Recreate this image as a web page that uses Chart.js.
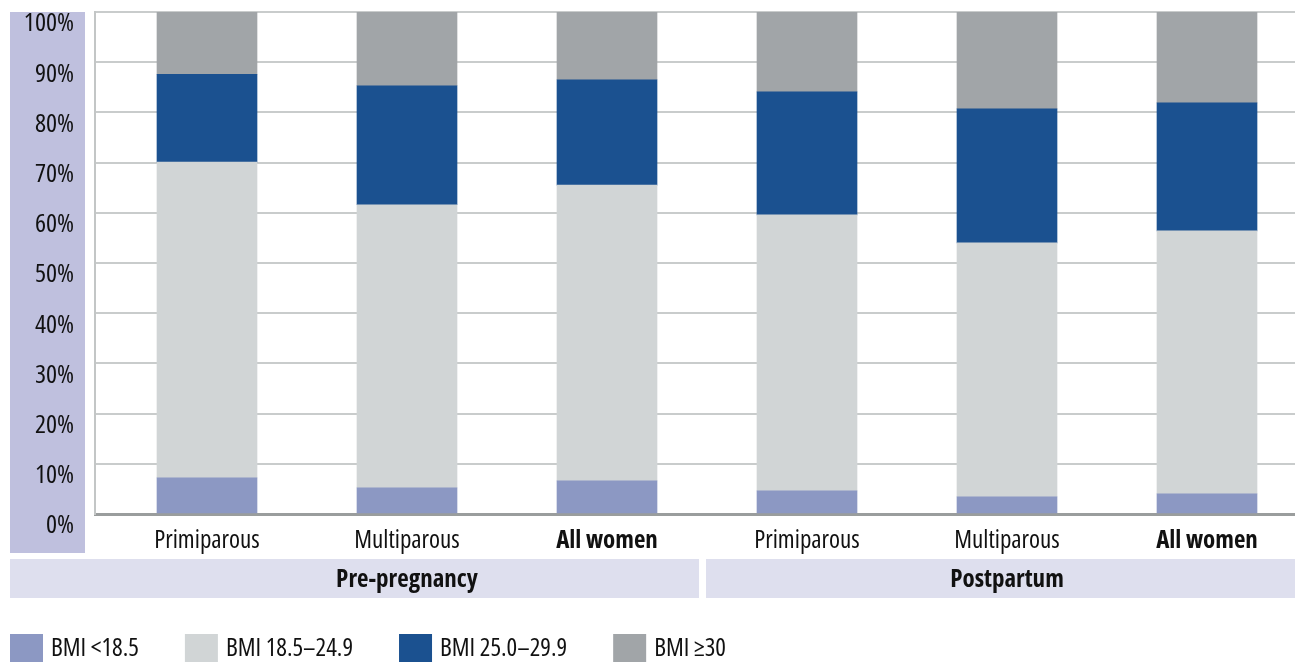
<!DOCTYPE html>
<html>
<head>
<meta charset="utf-8">
<script src="https://cdn.jsdelivr.net/npm/chart.js@4/dist/chart.umd.min.js"></script>
<style>
  html, body { margin: 0; padding: 0; background: #fff; overflow: hidden; }
  #wrap { width: 1295px; height: 662px; }
</style>
</head>
<body>
<div id="wrap"><canvas id="bmiChart" width="1295" height="662"></canvas></div>
<script>
// categories along the x axis, and the group each one belongs to
const categories = ['Primiparous', 'Multiparous', 'All women', 'Primiparous', 'Multiparous', 'All women'];
const boldCategories = ['All women'];
const groups = ['Pre-pregnancy', 'Postpartum'];
const groupOf = [0, 0, 0, 1, 1, 1];

// percentage of women in each BMI band
const seriesLabels = ['BMI <18.5', 'BMI 18.5–24.9', 'BMI 25.0–29.9', 'BMI ≥30'];
const underweight = [7.2, 5.2, 6.6, 4.6, 3.4, 4.0];
const normal = [62.9, 56.4, 58.9, 55.0, 50.6, 52.4];
const overweight = [17.5, 23.7, 21.0, 24.5, 26.7, 25.5];
const obese = [12.4, 14.7, 13.5, 15.9, 19.3, 18.1];

const yTicks = [0, 10, 20, 30, 40, 50, 60, 70, 80, 90, 100];

// Open Sans with its width axis pulled in, close to a condensed grotesque
const FAMILY = "'Open Sans', sans-serif";
const colors = ['#8c98c3', '#d1d5d6', '#1b5190', '#a1a5a8'];

function toPoints(values) {
  return values.map((v, i) => ({ x: i, y: v }));
}

// side bands, group labels and the legend
const decorations = {
  id: 'decorations',
  beforeDraw(chart) {
    const { ctx, chartArea, scales } = chart;
    ctx.save();
    // lavender band behind the y labels
    ctx.fillStyle = '#bfc0de';
    ctx.fillRect(10, chartArea.top, 75, 553 - chartArea.top);

    // group bands under the categories
    const x = scales.x;
    const split = (x.getPixelForValue(2) + x.getPixelForValue(3)) / 2;
    ctx.fillStyle = '#dedfee';
    ctx.fillRect(10, 559, split - 8 - 10, 39);
    ctx.fillRect(split - 1, 559, chart.width - split + 1, 39);
    ctx.restore();
  },
  afterDraw(chart) {
    const { ctx, scales } = chart;
    const x = scales.x;
    ctx.save();
    ctx.fillStyle = '#111';
    ctx.font = 'bold condensed 25px ' + FAMILY;
    ctx.textAlign = 'center';
    ctx.textBaseline = 'middle';
    groups.forEach((g, gi) => {
      const idx = groupOf.map((v, i) => v === gi ? i : -1).filter(i => i >= 0);
      const cx = idx.reduce((s, i) => s + x.getPixelForValue(i), 0) / idx.length;
      ctx.fillText(g, cx, 580);
    });

    // legend
    ctx.font = 'condensed 25px ' + FAMILY;
    ctx.textAlign = 'left';
    let lx = 10;
    chart.data.datasets.forEach(ds => {
      ctx.fillStyle = ds.backgroundColor;
      ctx.fillRect(lx, 634, 33, 28);
      ctx.fillStyle = '#111';
      ctx.fillText(ds.label, lx + 41, 649);
      lx += 41 + ctx.measureText(ds.label).width + 46;
    });
    ctx.restore();
  }
};

const chart = new Chart(document.getElementById('bmiChart'), {
  type: 'bar',
  data: {
    datasets: [
      { label: seriesLabels[0], data: toPoints(underweight), backgroundColor: colors[0] },
      { label: seriesLabels[1], data: toPoints(normal), backgroundColor: colors[1] },
      { label: seriesLabels[2], data: toPoints(overweight), backgroundColor: colors[2] },
      { label: seriesLabels[3], data: toPoints(obese), backgroundColor: colors[3] }
    ]
  },
  options: {
    responsive: false,
    animation: false,
    devicePixelRatio: 1,
    layout: { padding: 0 },
    datasets: { bar: { barThickness: 100, borderWidth: 0 } },
    plugins: { legend: { display: false }, tooltip: { enabled: false } },
    scales: {
      x: {
        type: 'linear',
        stacked: true,
        offset: false,
        min: -0.56,
        max: 5.44,
        grid: { display: false, drawTicks: false },
        border: { display: true, color: '#9a9d9d', width: 3 },
        afterBuildTicks: (scale) => {
          scale.ticks = categories.map((_, i) => ({ value: i }));
        },
        afterFit: (scale) => {
          scale.height = 148;
          scale.paddingLeft = 0;
          scale.paddingRight = 0;
        },
        ticks: {
          autoSkip: false,
          maxRotation: 0,
          padding: 12,
          color: '#111',
          font: (c) => ({
            family: FAMILY,
            size: 25,
            weight: c.tick && boldCategories.includes(categories[c.tick.value]) ? 'bold condensed' : 'condensed'
          }),
          callback: (v, i) => categories[i]
        }
      },
      y: {
        stacked: true,
        min: 0,
        max: 100,
        afterBuildTicks: (scale) => {
          scale.ticks = yTicks.map(v => ({ value: v }));
        },
        afterFit: (scale) => {
          scale.width = 95;
          scale.paddingTop = 12;
          scale.paddingBottom = 0;
        },
        grid: { color: '#c9cccc', lineWidth: 2, drawTicks: false },
        border: { display: true, color: '#c3c6c6', width: 2 },
        ticks: {
          padding: 21,
          labelOffset: 12,
          color: '#111',
          font: { family: FAMILY, size: 26, weight: 'condensed' },
          callback: (v) => v + '%'
        }
      }
    }
  },
  plugins: [decorations]
});
</script>
</body>
</html>
